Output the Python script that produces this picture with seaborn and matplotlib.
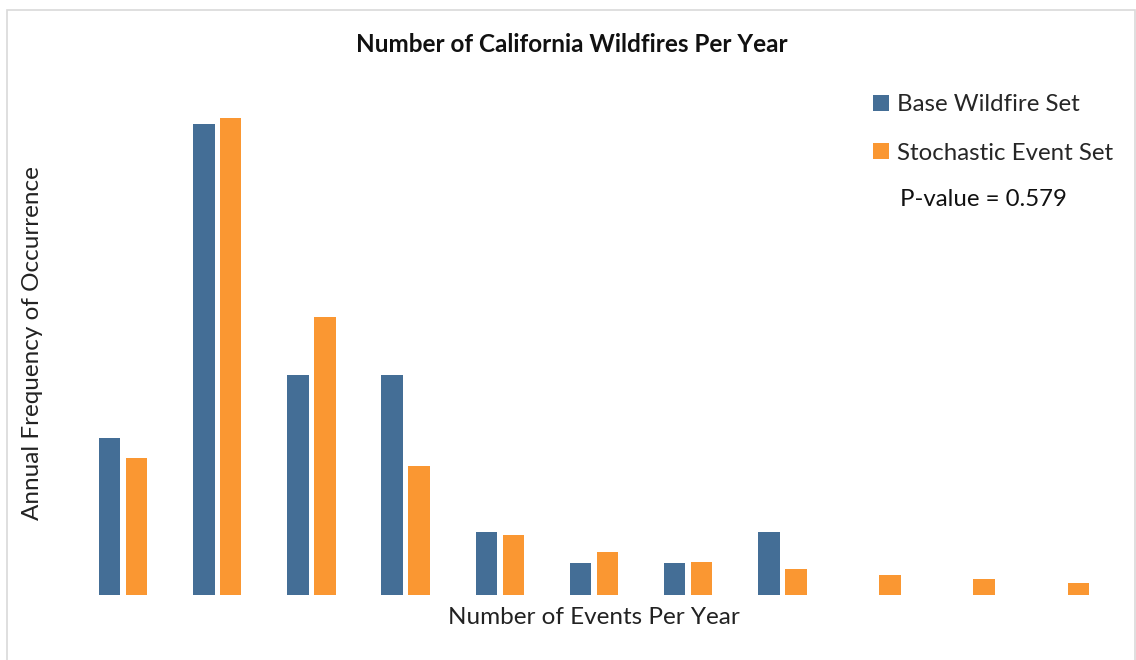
import matplotlib
matplotlib.use("Agg")
import matplotlib.pyplot as plt
from matplotlib.patches import Rectangle, Patch
import pandas as pd
import seaborn as sns

# Annual frequency of occurrence by number of events per year
events_per_year = ["0", "1", "2", "3", "4", "5", "6", "7", "8", "9", "10"]
base_wildfire = [0.125, 0.375, 0.175, 0.175, 0.05, 0.025, 0.025, 0.05, 0.0, 0.0, 0.0]
stochastic_event = [0.109, 0.379, 0.221, 0.102, 0.047, 0.034, 0.026, 0.020, 0.0155, 0.0123, 0.0089]
series_names = ["Base Wildfire Set", "Stochastic Event Set"]
series_colors = ["#446e96", "#fa9732"]
p_value_text = "P-value = 0.579"

df = pd.DataFrame({
    "events": events_per_year * 2,
    "freq": base_wildfire + stochastic_event,
    "series": [series_names[0]] * len(events_per_year) + [series_names[1]] * len(events_per_year),
})

sns.set_theme(style="white")
plt.rcParams["font.family"] = ["Lato", "DejaVu Sans"]

fig = plt.figure(figsize=(11.36, 6.6), dpi=100)
ax = fig.add_axes([76 / 1136, (660 - 594.5) / 660, (1112 - 76) / 1136, (594.5 - 92.1) / 660])

sns.barplot(data=df, x="events", y="freq", hue="series", order=events_per_year,
            hue_order=series_names, palette=series_colors, width=0.57, gap=0.2,
            linewidth=0, saturation=1, legend=False, ax=ax)

ax.set_xlim(-0.5, len(events_per_year) - 0.5)
ax.set_ylim(0, 0.4)
ax.set_xticks([])
ax.set_yticks([])
for s in ax.spines.values():
    s.set_visible(False)
ax.set_facecolor("none")

ax.set_xlabel("Number of Events Per Year", fontsize=17.5, color="#222222", labelpad=9)
ax.set_ylabel("Annual Frequency of Occurrence", fontsize=17.5, color="#222222", labelpad=24)

fig.text(572 / 1136, 1 - 44 / 660, "Number of California Wildfires Per Year",
         ha="center", va="center", fontsize=17.5, fontweight="bold", color="#111111")

handles = [Patch(facecolor=c, edgecolor="none") for c in series_colors]
fig.legend(handles, series_names, loc="upper left", bbox_to_anchor=(873 / 1136, 1 - 94 / 660),
           frameon=False, fontsize=17.3, handlelength=0.65, handleheight=0.65,
           handletextpad=0.35, labelspacing=1.15, borderaxespad=0, borderpad=0)
fig.text(900 / 1136, 1 - 199 / 660, p_value_text, ha="left", va="center",
         fontsize=17.3, color="#111111")

# light outer frame of the chart area
fig.patches.append(Rectangle((7 / 1136, -0.01), (1135 - 7) / 1136, (655 - 5) / 660 + 0.01,
                             transform=fig.transFigure, fill=False, edgecolor="#d9d9d9",
                             linewidth=1.2))

fig.savefig("out.png", dpi=100)
